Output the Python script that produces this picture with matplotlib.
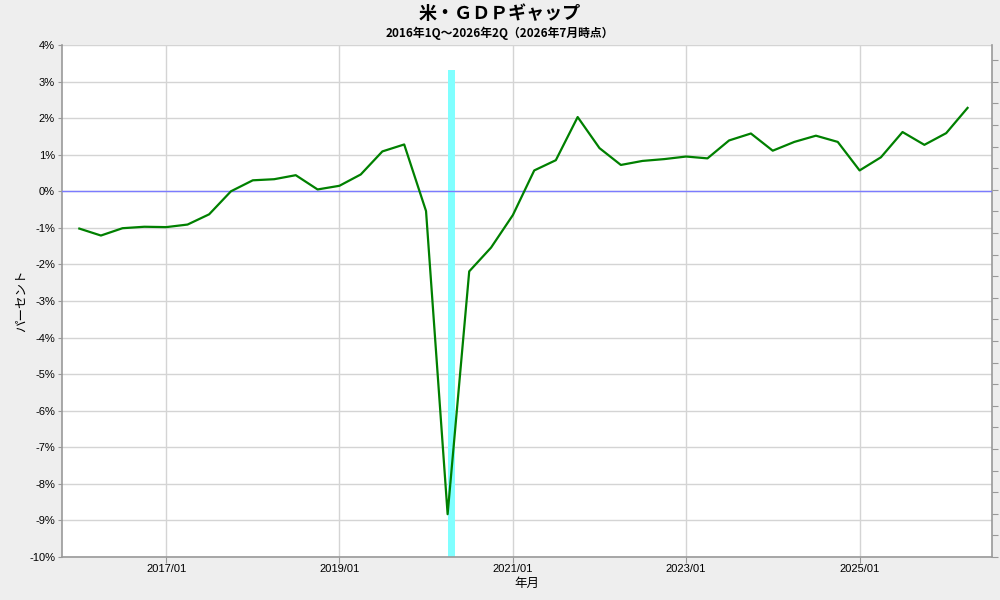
import numpy as np
import pandas as pd
import matplotlib
matplotlib.use("Agg")
import matplotlib.pyplot as plt
import matplotlib.dates as mdates

plt.rcParams['font.family'] = ['Liberation Sans', 'Noto Sans CJK JP', 'DejaVu Sans']

# quarterly GDP gap (%), 2016Q1 .. 2026Q2
quarters = pd.date_range("2016-01-01", periods=42, freq="QS")
gap = [-1.02, -1.21, -1.01, -0.97,
       -0.98, -0.91, -0.63, 0.00,
       0.30, 0.33, 0.44, 0.05,
       0.15, 0.46, 1.09, 1.28,
       -0.54, -8.83, -2.19, -1.54,
       -0.65, 0.57, 0.85, 2.03,
       1.18, 0.72, 0.83, 0.88,
       0.95, 0.90, 1.39, 1.58,
       1.11, 1.35, 1.52, 1.35,
       0.57, 0.93, 1.62, 1.27,
       1.59, 2.28]

recession_date = pd.Timestamp("2020-04-01")
recession_top = 3.32

title = "米・ＧＤＰギャップ"
subtitle = "2016年1Q～2026年2Q（2026年7月時点）"
yticks = np.arange(-10, 5, 1)

fig = plt.figure(figsize=(10, 6), dpi=100, facecolor="#eeeeee")
ax = fig.add_axes([0.062, 0.0717, 0.930, 0.8533])
ax.set_facecolor("white")

# recession bar
ax.bar(recession_date, recession_top - (-10), bottom=-10, width=30,
       align="edge", color="#80ffff", zorder=2)

ax.axhline(0, color="#7b7bff", lw=1, zorder=3)
ax.plot(quarters, gap, color="#008000", lw=1.6, zorder=4)

ax.set_ylim(-10, 4)
ax.set_yticks(yticks)
ax.set_yticklabels([f"{v}%" for v in yticks], fontsize=8)
ax.set_xlim(pd.Timestamp("2015-10-20"), pd.Timestamp("2026-07-13"))
ax.set_xticks([pd.Timestamp(f"{y}-01-01") for y in range(2017, 2026, 2)])
ax.xaxis.set_major_formatter(mdates.DateFormatter("%Y/%m"))
ax.tick_params(axis="x", labelsize=8, length=4, color="#999999", pad=1)
ax.tick_params(axis="y", length=3, color="#999999", pad=2)

ax.grid(True, color="#d4d4d4", lw=1, zorder=0)
ax.set_axisbelow(True)
for s in ax.spines.values():
    s.set_color("#999999")
    s.set_linewidth(1.2)
ax.spines["top"].set_visible(False)

ax.set_ylabel("パーセント", fontsize=9)
ax.yaxis.set_label_coords(-0.037, 0.5)
ax.set_xlabel("年月", fontsize=9, labelpad=3)

# unlabeled right axis ticks
ax2 = ax.twinx()
ax2.set_ylim(0, 512 / 21.6)
ax2.set_yticks(np.arange(0, 24, 1))
ax2.set_yticklabels([])
ax2.tick_params(axis="y", length=4, color="#999999")
for s in ax2.spines.values():
    s.set_visible(False)

fig.text(0.5, 0.978, title, ha="center", va="center", fontsize=13,
         fontweight="bold", family=['Noto Sans CJK JP', 'DejaVu Sans'])
fig.text(0.5, 0.945, subtitle, ha="center", va="center", fontsize=8.5,
         fontweight="bold", family=['Noto Sans CJK JP', 'DejaVu Sans'])

fig.savefig("out.png", dpi=100, facecolor=fig.get_facecolor())
